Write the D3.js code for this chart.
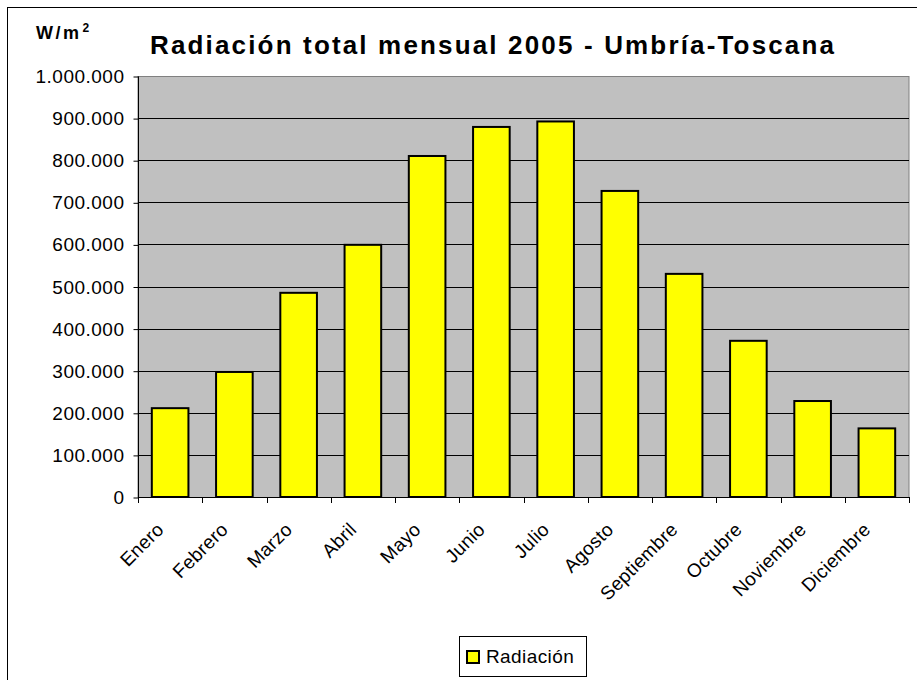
<!DOCTYPE html>
<meta charset="utf-8">
<style>
  body { margin: 0; background: #fff; }
  text { font-family: Arial, "Liberation Sans", sans-serif; fill: #000; }
  .grid line { stroke: #000; stroke-width: 1; }
  .axis path, .axis line { stroke: #000; }
</style>
<svg width="917" height="680"></svg>
<script src="https://d3js.org/d3.v7.min.js"></script>
<script>
var months = ["Enero", "Febrero", "Marzo", "Abril", "Mayo", "Junio", "Julio",
              "Agosto", "Septiembre", "Octubre", "Noviembre", "Diciembre"];
var radiacion = [211000, 297000, 485000, 599000, 810000, 879000, 892000,
                 727000, 530000, 371000, 228000, 163000];
var yTicks = [0, 100000, 200000, 300000, 400000, 500000, 600000, 700000, 800000, 900000, 1000000];

var svg = d3.select("svg"),
    pLeft = 138, pRight = 909, pTop = 76, pBottom = 497;

// outer chart frame (runs off the right/bottom edge)
svg.append("rect")
    .attr("x", 7.5).attr("y", 7.5)
    .attr("width", 920).attr("height", 690)
    .attr("fill", "#fff").attr("stroke", "#000").attr("stroke-width", 1);

var x = d3.scaleBand().domain(months).range([pLeft, pRight]).paddingInner(0.43).paddingOuter(0.215);
var xc = d3.scaleBand().domain(months).range([pLeft, pRight]);
var y = d3.scaleLinear().domain([0, 1000000]).range([pBottom, pTop]);

// plot area
svg.append("rect")
    .attr("x", pLeft).attr("y", pTop + 0.5)
    .attr("width", pRight - pLeft).attr("height", pBottom - pTop)
    .attr("fill", "#c0c0c0").attr("stroke", "#808080").attr("stroke-width", 1);

svg.append("g").attr("class", "grid")
  .selectAll("line")
  .data(yTicks.slice(1, -1))
  .join("line")
    .attr("x1", pLeft).attr("x2", pRight)
    .attr("y1", function(d) { return Math.round(y(d)) + 0.5; })
    .attr("y2", function(d) { return Math.round(y(d)) + 0.5; });

svg.append("g")
  .selectAll("rect")
  .data(radiacion)
  .join("rect")
    .attr("x", function(d, i) { return x(months[i]); })
    .attr("y", function(d) { return y(d); })
    .attr("width", x.bandwidth())
    .attr("height", function(d) { return pBottom - y(d); })
    .attr("fill", "#ffff00")
    .attr("stroke", "#000")
    .attr("stroke-width", 2);

// y axis
var yAxis = svg.append("g").attr("class", "axis")
    .attr("transform", "translate(" + (pLeft + 0.5) + ",0.5)")
    .call(d3.axisLeft(y).tickValues(yTicks).tickSize(5).tickPadding(9)
      .tickFormat(function(d) { return d3.format(",")(d).replace(/,/g, "."); }));
yAxis.selectAll("text").style("font-size", "19px").style("letter-spacing", "0.5px");
yAxis.select(".domain").attr("d", "M0," + pTop + "V" + pBottom);

// x axis with ticks between categories
var xAxis = svg.append("g").attr("class", "axis");
xAxis.append("line")
    .attr("x1", pLeft).attr("x2", pRight + 1)
    .attr("y1", pBottom + 0.5).attr("y2", pBottom + 0.5);
xAxis.selectAll(".tk")
  .data(months.concat(["_end"]))
  .join("line").attr("class", "tk")
    .attr("x1", function(d, i) { return Math.round(pLeft + i * xc.step()) + 0.5; })
    .attr("x2", function(d, i) { return Math.round(pLeft + i * xc.step()) + 0.5; })
    .attr("y1", pBottom).attr("y2", pBottom + 6);

xAxis.selectAll("text")
  .data(months)
  .join("text")
    .attr("transform", function(d) {
      return "translate(" + (xc(d) + xc.bandwidth() / 2 - 10) + "," + (pBottom + 29) + ") rotate(-45)";
    })
    .attr("text-anchor", "end")
    .attr("dy", "0.35em")
    .style("font-size", "19px")
    .style("letter-spacing", "0.3px")
    .text(function(d) { return d; });

// titles
svg.append("text")
    .attr("x", 150).attr("y", 54)
    .attr("textLength", 684).attr("lengthAdjust", "spacing")
    .style("font-size", "26px").style("font-weight", "bold")
    .text("Radiación total mensual 2005 - Umbría-Toscana");

var unit = svg.append("text")
    .attr("x", 36).attr("y", 39)
    .style("font-size", "18px").style("font-weight", "bold").style("letter-spacing", "2.5px");
unit.append("tspan").text("W/m");
unit.append("tspan").attr("dx", 1).attr("dy", -7).style("font-size", "12px").text("2");

// legend
var legend = svg.append("g");
legend.append("rect")
    .attr("x", 459.5).attr("y", 636.5).attr("width", 127).attr("height", 40)
    .attr("fill", "#fff").attr("stroke", "#000");
legend.append("rect")
    .attr("x", 467).attr("y", 651).attr("width", 12).attr("height", 12)
    .attr("fill", "#ffff00").attr("stroke", "#000").attr("stroke-width", 2);
legend.append("text")
    .attr("x", 486).attr("y", 663)
    .style("font-size", "19px").style("letter-spacing", "0.4px")
    .text("Radiación");
</script>
